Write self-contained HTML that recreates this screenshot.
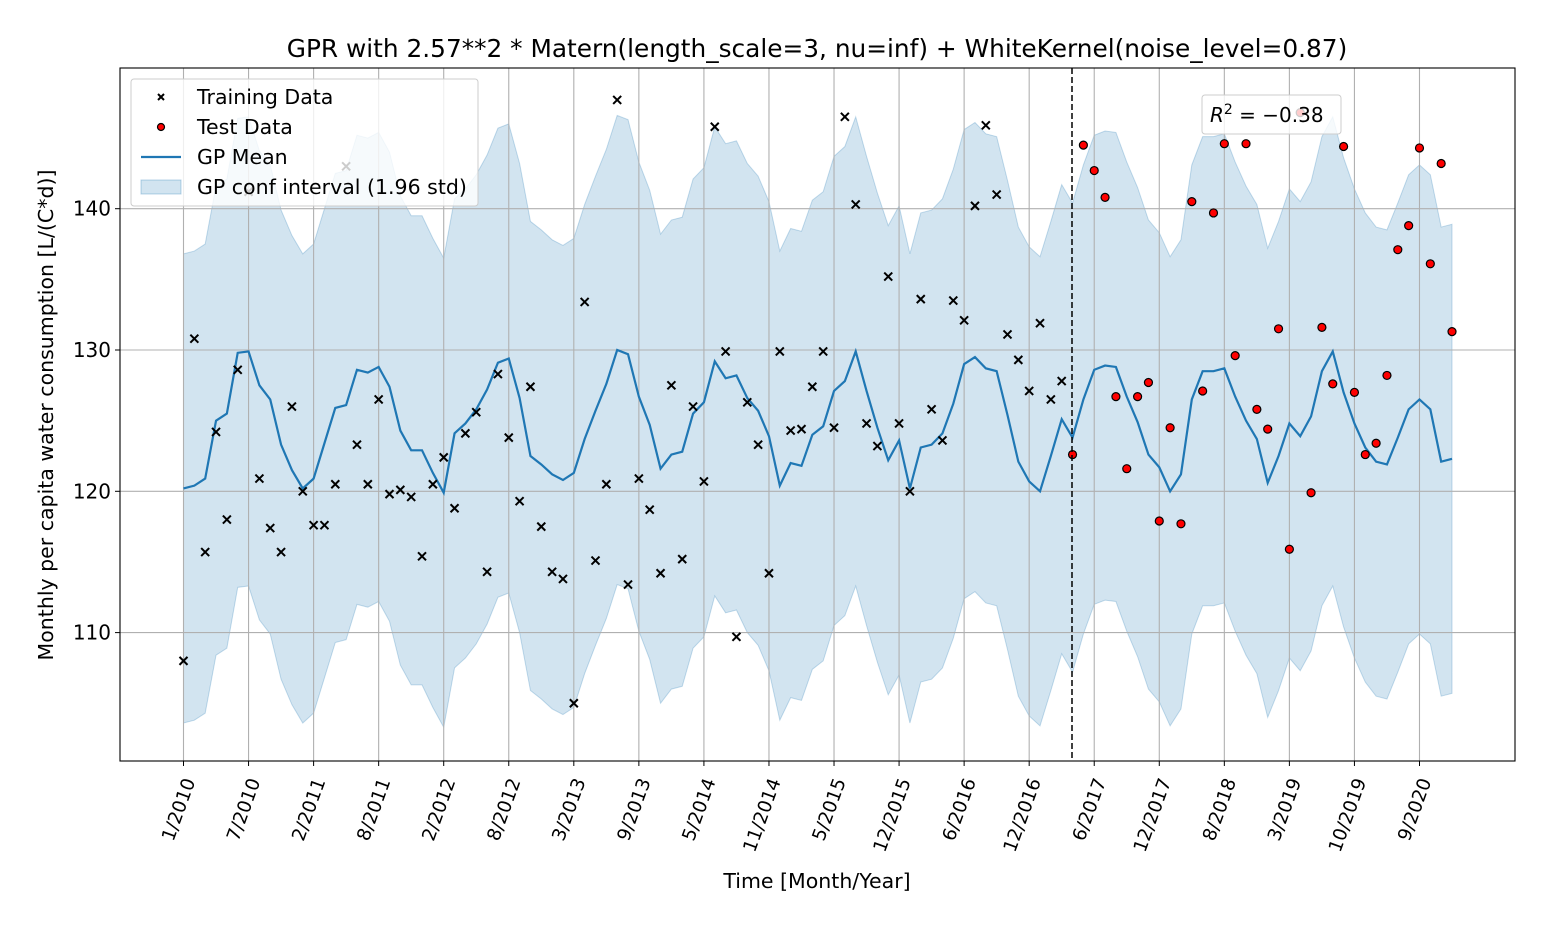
<!DOCTYPE html>
<html><head><meta charset="utf-8"><style>
body{margin:0;background:#fff;}
svg text{font-family:"DejaVu Sans","Liberation Sans",sans-serif;}
</style></head><body>
<svg id="chart" width="1552" height="930" xmlns="http://www.w3.org/2000/svg">
<rect width="1552" height="930" fill="#fff"/>
<g id="band"></g>
<g id="grid"></g>
<g id="meanG"></g>
<g id="pts"></g>
<g id="axes"></g>
<text x="817" y="57" font-size="24.8" text-anchor="middle">GPR with 2.57**2 * Matern(length_scale=3, nu=inf) + WhiteKernel(noise_level=0.87)</text>
<text x="817" y="888" font-size="20.5" text-anchor="middle">Time [Month/Year]</text>
<text transform="translate(53,415) rotate(-90)" font-size="20.5" text-anchor="middle">Monthly per capita water consumption [L/(C*d)]</text>
<line x1="1072" y1="68" x2="1072" y2="761" stroke="#000" stroke-width="1.5" stroke-dasharray="6,3"/>
<g>
<rect x="131" y="79" width="347" height="127" rx="3" fill="#fff" fill-opacity="0.8" stroke="#ccc"/>
<g><path d="M158,94 l6,6 M164,94 l-6,6" stroke="#000" stroke-width="2"/><text x="197" y="104" font-size="20.5">Training Data</text></g>
<g><circle cx="161" cy="127" r="3.5" fill="#f00" stroke="#000" stroke-width="1.2"/><text x="197" y="134" font-size="20.5">Test Data</text></g>
<g><line x1="141" y1="157" x2="181" y2="157" stroke="#1f77b4" stroke-width="2.2"/><text x="197" y="164" font-size="20.5">GP Mean</text></g>
<g><rect x="141" y="180" width="40" height="14" fill="#1f77b4" fill-opacity="0.2" stroke="#1f77b4" stroke-opacity="0.3"/><text x="197" y="194" font-size="20.5">GP conf interval (1.96 std)</text></g>
</g>
<g>
<rect x="1202" y="95" width="139" height="39" rx="3" fill="#fff" fill-opacity="0.8" stroke="#ccc"/>
<text x="1210" y="122" font-size="20"><tspan font-style="italic">R</tspan><tspan dy="-8" font-size="14">2</tspan><tspan dy="8"> = −0.38</tspan></text>
</g>
</svg>
<script>
const trainValues=[108.0,130.8,115.7,124.2,118.0,128.6,141.2,120.9,117.4,115.7,126.0,120.0,117.6,117.6,120.5,143.0,123.3,120.5,126.5,119.8,120.1,119.6,115.4,120.5,122.4,118.8,124.1,125.6,114.3,128.3,123.8,119.3,127.4,117.5,114.3,113.8,105.0,133.4,115.1,120.5,147.7,113.4,120.9,118.7,114.2,127.5,115.2,126.0,120.7,145.8,129.9,109.7,126.3,123.3,114.2,129.9,124.3,124.4,127.4,129.9,124.5,146.5,140.3,124.8,123.2,135.2,124.8,120.0,133.6,125.8,123.6,133.5,132.1,140.2,145.9,141.0,131.1,129.3,127.1,131.9,126.5,127.8];
const testValues=[122.6,144.5,142.7,140.8,126.7,121.6,126.7,127.7,117.9,124.5,117.7,140.5,127.1,139.7,144.6,129.6,144.6,125.8,124.4,131.5,115.9,146.8,119.9,131.6,127.6,144.4,127.0,122.6,123.4,128.2,137.1,138.8,144.3,136.1,143.2,131.3];
const meanValues=[120.2,120.4,120.9,125.0,125.5,129.8,129.9,127.5,126.5,123.3,121.5,120.2,120.9,123.4,125.9,126.1,128.6,128.4,128.8,127.4,124.3,122.9,122.9,121.3,119.9,124.1,124.8,125.8,127.2,129.1,129.4,126.6,122.5,121.9,121.2,120.8,121.3,123.7,125.7,127.6,130.0,129.7,126.7,124.7,121.6,122.6,122.8,125.5,126.3,129.2,128.0,128.2,126.6,125.7,123.9,120.4,122.0,121.8,124.0,124.6,127.1,127.8,129.9,127.1,124.5,122.2,123.6,120.2,123.1,123.3,124.1,126.2,129.0,129.5,128.7,128.5,125.4,122.1,120.7,120.0,122.5,125.1,123.8,126.5,128.6,128.9,128.8,126.7,124.9,122.6,121.7,120.0,121.2,126.5,128.5,128.5,128.7,126.7,125.0,123.7,120.6,122.5,124.8,123.9,125.3,128.5,129.9,127.0,124.8,123.1,122.1,121.9,123.8,125.8,126.5,125.8,122.1,122.3];
const ciHalf=16.6;
const tickLabels=["1/2010","7/2010","2/2011","8/2011","2/2012","8/2012","3/2013","9/2013","5/2014","11/2014","5/2015","12/2015","6/2016","12/2016","6/2017","12/2017","8/2018","3/2019","10/2019","9/2020"];
const yTicks=[110,120,130,140];
const splitIndex=82;

const NS="http://www.w3.org/2000/svg";
const L=120,R=1515,T=68,B=761;
const xs=i=>183.5+i*10.842;
const ys=v=>350-(v-130)*14.13;
function mk(tag,attrs,parent){const e=document.createElementNS(NS,tag);for(const k in attrs)e.setAttribute(k,attrs[k]);parent.appendChild(e);return e;}

const allIdx=meanValues.map((_,i)=>i);
let up=allIdx.map(i=>xs(i)+","+ys(meanValues[i]+ciHalf));
let lo=allIdx.slice().reverse().map(i=>xs(i)+","+ys(meanValues[i]-ciHalf));
const band=mk('polygon',{points:up.concat(lo).join(' '),fill:'#1f77b4','fill-opacity':0.2,stroke:'#1f77b4','stroke-opacity':0.25},document.getElementById('band'));



const grid=document.getElementById('grid');
yTicks.forEach(v=>{const g=mk('line',{x1:L,x2:R,y1:ys(v),y2:ys(v),stroke:'#b0b0b0','stroke-width':1.1},grid);

});
tickLabels.forEach((t,k)=>{const g=mk('line',{x1:xs(k*6),x2:xs(k*6),y1:T,y2:B,stroke:'#b0b0b0','stroke-width':1.1},grid);

});

const ml=mk('polyline',{points:allIdx.map(i=>xs(i)+","+ys(meanValues[i])).join(' '),fill:'none',stroke:'#1f77b4','stroke-width':2.2},document.getElementById('meanG'));



const pts=document.getElementById('pts');
trainValues.forEach((v,i)=>{const x=xs(i),y=ys(v);
const p=mk('path',{d:`M${x-4},${y-4} L${x+4},${y+4} M${x+4},${y-4} L${x-4},${y+4}`,stroke:'#000','stroke-width':2},pts);

});
testValues.forEach((v,i)=>{
const c=mk('circle',{cx:xs(splitIndex+i),cy:ys(v),r:4,fill:'#f00',stroke:'#000','stroke-width':1.2},pts);

});

const ax=document.getElementById('axes');
mk('rect',{x:L,y:T,width:R-L,height:B-T,fill:'none',stroke:'#000','stroke-width':1.1},ax);
yTicks.forEach(v=>{mk('line',{x1:L-5,x2:L,y1:ys(v),y2:ys(v),stroke:'#000'},ax);
const t=mk('text',{x:L-9,y:ys(v)+7,'font-size':20,'text-anchor':'end'},ax);t.textContent=v;

});
tickLabels.forEach((s,k)=>{const x=xs(k*6);mk('line',{x1:x,x2:x,y1:B,y2:B+5,stroke:'#000'},ax);
const t=mk('text',{transform:`translate(${x+12},${B+20}) rotate(-70)`,'font-size':18.5,'text-anchor':'end'},ax);t.textContent=s;

});
</script>
</body></html>
